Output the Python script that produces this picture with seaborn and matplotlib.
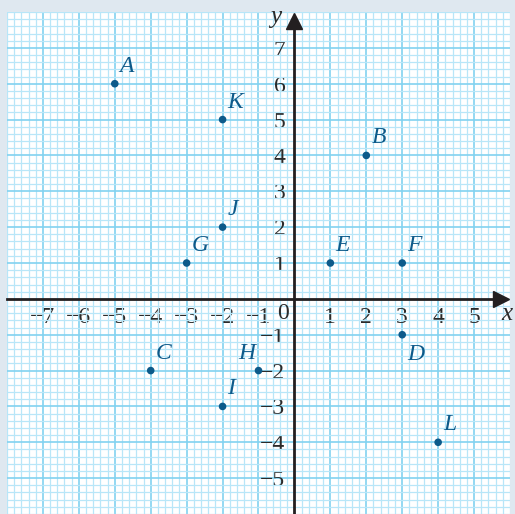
import matplotlib
matplotlib.use("Agg")
import matplotlib.pyplot as plt
from matplotlib.ticker import MultipleLocator, FixedLocator
import seaborn as sns
import pandas as pd

# Plotted points
labels = ["A", "B", "C", "D", "E", "F", "G", "H", "I", "J", "K", "L"]
xs = [-5, 2, -4, 3, 1, 3, -3, -1, -2, -2, -2, 4]
ys = [6, 4, -2, -1, 1, 1, 1, -2, -3, 2, 5, -4]

# Tick values shown on each axis
x_ticks = [-7, -6, -5, -4, -3, -2, -1, 1, 2, 3, 4, 5]
y_ticks = [-5, -4, -3, -2, -1, 1, 2, 3, 4, 5, 6, 7]

df = pd.DataFrame({"label": labels, "x": xs, "y": ys})

sns.set_theme(style="white")
plt.rcParams["font.family"] = ["Liberation Serif", "DejaVu Serif"]
plt.rcParams["axes.unicode_minus"] = True

DPI = 100
W, H = 515, 514
fig = plt.figure(figsize=(W / DPI, H / DPI), dpi=DPI, facecolor="#dfe8f0")
left, right, top, bottom = 7, 510, 12, 514
ax = fig.add_axes([left / W, 1 - bottom / H, (right - left) / W, (bottom - top) / H])
ax.set_facecolor("white")
ax.set_xlim(-8, 6)
ax.set_ylim(-6, 8)

# Graph-paper grid: fine 0.2 lines and stronger unit lines
ax.xaxis.set_major_locator(FixedLocator(x_ticks))
ax.yaxis.set_major_locator(FixedLocator(y_ticks))
ax.xaxis.set_minor_locator(MultipleLocator(0.2))
ax.yaxis.set_minor_locator(MultipleLocator(0.2))
ax.grid(which="minor", color="#b8e6f8", linewidth=0.9)
ax.grid(which="major", color="#82d2f0", linewidth=1.2)
ax.set_axisbelow(True)

# Axes through the origin
axis_color = "#231f20"
text_color = "#2a2a2a"
for side in ("top", "right"):
    ax.spines[side].set_visible(False)
ax.spines["left"].set_position(("data", 0))
ax.spines["bottom"].set_position(("data", 0))
for side in ("left", "bottom"):
    ax.spines[side].set_color(axis_color)
    ax.spines[side].set_linewidth(2.0)
    ax.spines[side].set_zorder(3)
ax.spines["bottom"].set_bounds(-8, 5.7)
ax.spines["left"].set_bounds(-6, 7.7)
ax.plot(5.75, 0, marker=">", ms=11, color=axis_color, clip_on=False, zorder=4)
ax.plot(0, 7.75, marker="^", ms=11, color=axis_color, clip_on=False, zorder=4)

ax.tick_params(which="minor", length=0)
ax.tick_params(axis="x", which="major", direction="out", length=4.5, width=1.5,
               color=axis_color, labelsize=17, labelcolor=text_color, pad=1.5)
ax.tick_params(axis="y", which="major", direction="out", length=4.5, width=1.5,
               color=axis_color, labelsize=17, labelcolor=text_color, pad=2)
ax.set_xticklabels([f"{v}".replace("-", "\u2212") for v in x_ticks])
ax.set_yticklabels([f"{v}".replace("-", "\u2212") for v in y_ticks])

ax.text(-0.33, -0.42, "0", fontsize=17, color=text_color, ha="center", va="center")
ax.text(5.92, -0.42, "x", fontsize=18, style="italic", color=text_color,
        ha="center", va="center")
ax.text(-0.52, 7.85, "y", fontsize=18, style="italic", color=text_color,
        ha="center", va="center")

point_color = "#0d5a8a"
sns.scatterplot(data=df, x="x", y="y", ax=ax, color=point_color, s=30,
                edgecolor="none", zorder=5, legend=False)
ax.set_xlabel("")
ax.set_ylabel("")

# Label placement: offset in points and alignment per point
default = ((3.6, 5.0), "left", "bottom")
special = {"D": ((3.6, -7.0), "left", "top"), "H": ((-2.0, 5.0), "right", "bottom")}
for lab, x, y in zip(labels, xs, ys):
    off, ha, va = special.get(lab, default)
    ax.annotate(lab, (x, y), xytext=off, textcoords="offset points",
                ha=ha, va=va, fontsize=17, style="italic", color=point_color,
                zorder=6)

fig.savefig("out.png", dpi=DPI, facecolor=fig.get_facecolor())
